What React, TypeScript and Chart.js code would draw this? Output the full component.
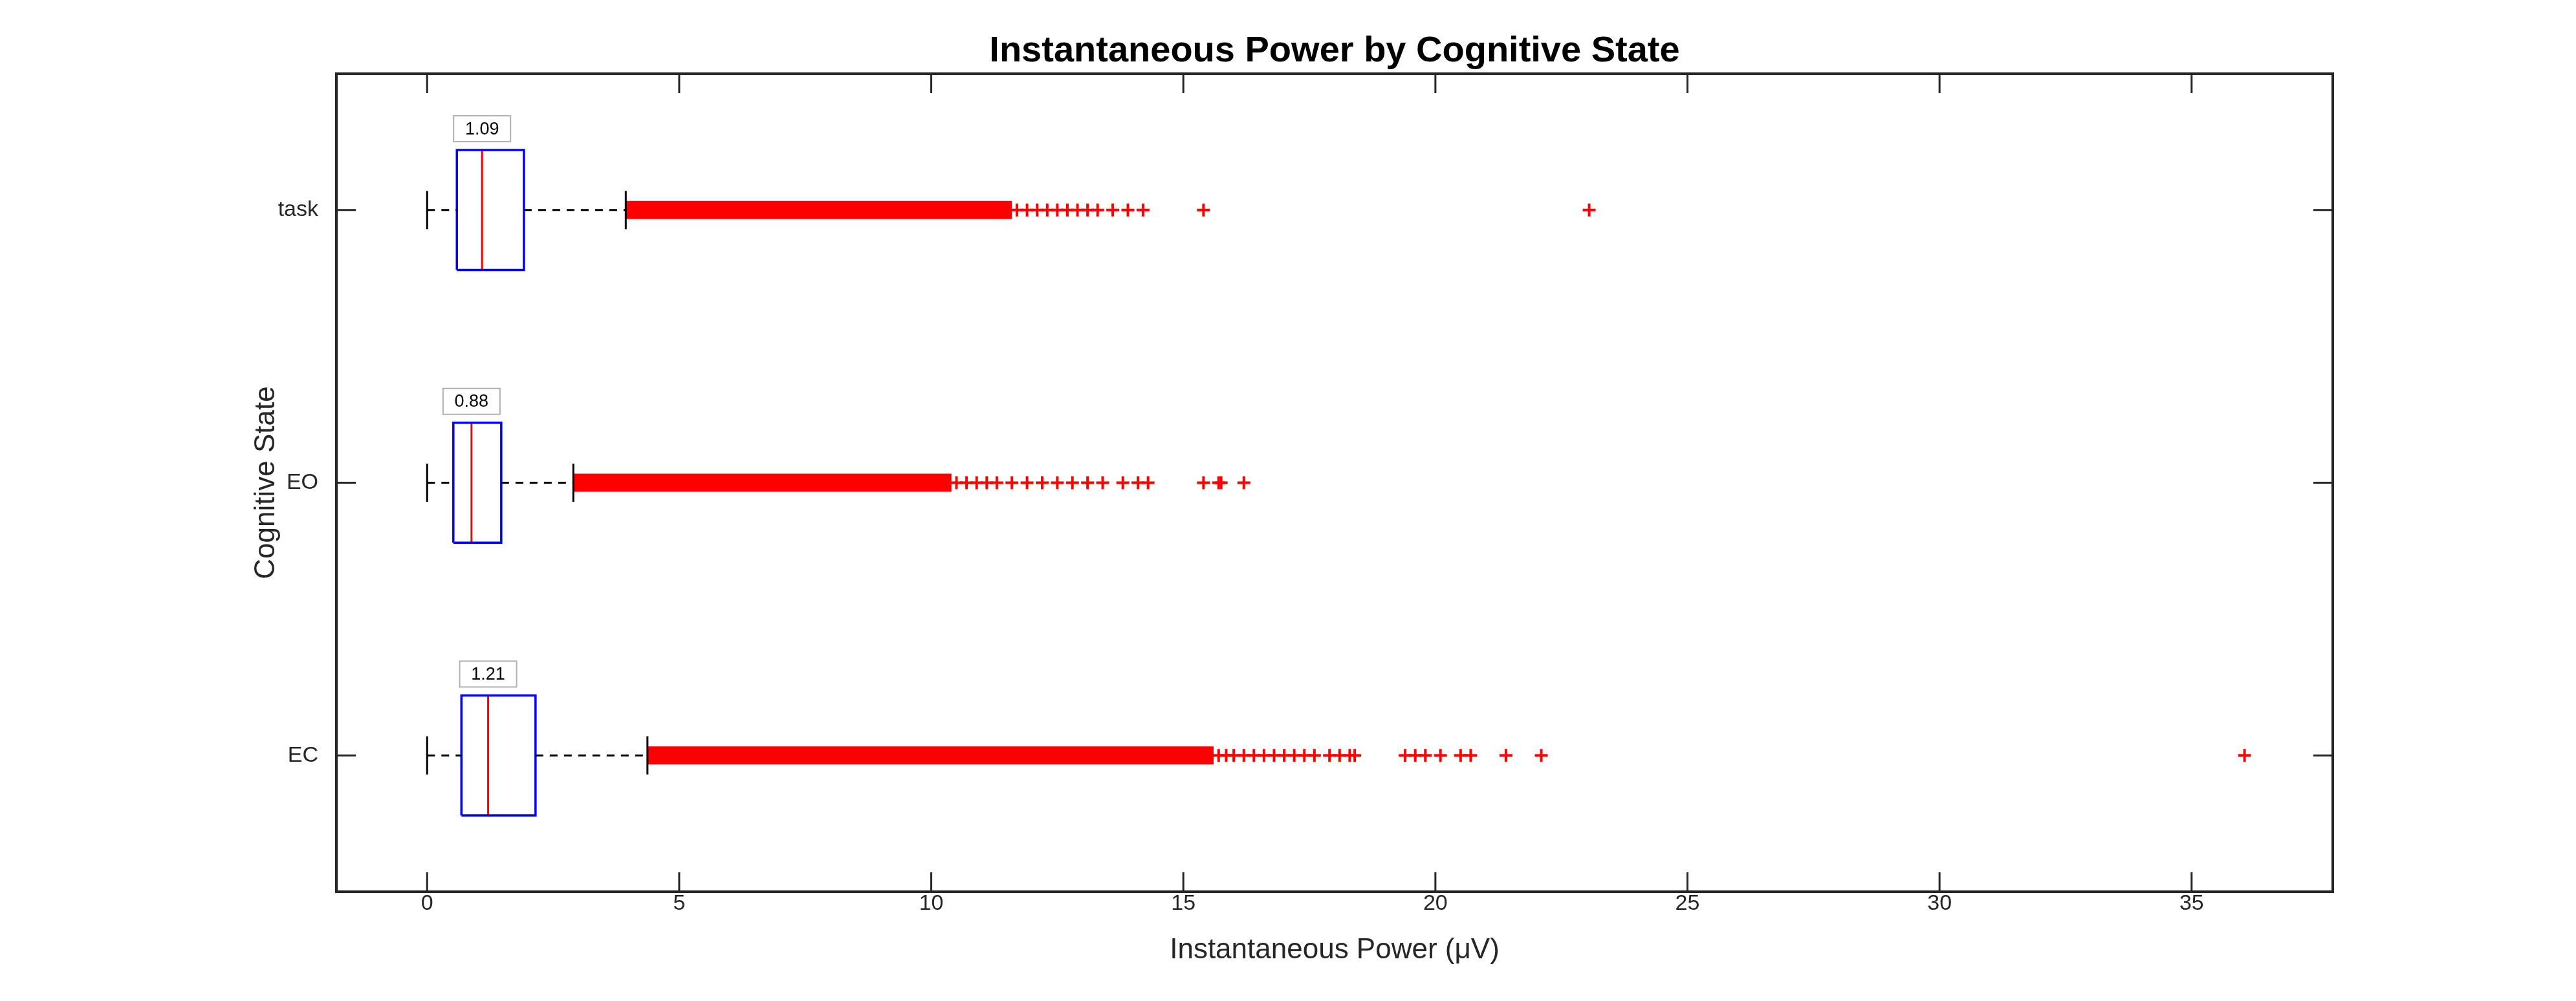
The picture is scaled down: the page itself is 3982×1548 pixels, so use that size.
import React, { useEffect, useRef } from "react";
import { Chart, registerables } from "chart.js";

Chart.register(...registerables);

const categories = ["EC", "EO", "task"];
const q1 = [0.68, 0.52, 0.59];
const medians = [1.21, 0.88, 1.09];
const q3 = [2.15, 1.47, 1.92];
const whiskerLow = [0, 0, 0];
const whiskerHigh = [4.37, 2.9, 3.94];
// the dense band of outliers, drawn as a solid run
const denseStart = [4.37, 2.9, 3.94];
const denseEnd = [15.6, 10.4, 11.6];
const sparseEC = [15.7, 15.85, 16.0, 16.2, 16.4, 16.6, 16.8, 17.0, 17.2, 17.4, 17.6, 17.9, 18.1, 18.3, 18.4, 19.4, 19.6, 19.8, 20.1, 20.5, 20.7, 21.4, 22.1, 36.05];
const sparseEO = [10.5, 10.7, 10.9, 11.1, 11.3, 11.6, 11.9, 12.2, 12.5, 12.8, 13.1, 13.4, 13.8, 14.1, 14.3, 15.4, 15.7, 15.75, 16.2];
const sparseTask = [11.7, 11.9, 12.1, 12.3, 12.5, 12.7, 12.9, 13.1, 13.3, 13.6, 13.9, 14.2, 15.4, 23.05];
const xTicks = [0, 5, 10, 15, 20, 25, 30, 35];

const FONT = "'Liberation Sans', Arial, sans-serif";
const HALF = 0.22;
const CAP = 0.07;

const App: React.FC = () => {
	const canvasRef = useRef<HTMLCanvasElement>(null);

	useEffect(() => {
		document.body.style.margin = "0";
		if (!canvasRef.current) return;

		const datasets: any[] = [];
		categories.forEach((_, i) => {
			// whiskers (dashed)
			datasets.push({ type: "line", data: [{ x: whiskerLow[i], y: i }, { x: q1[i], y: i }], borderColor: "#000", borderWidth: 3, borderDash: [12, 10], pointRadius: 0 });
			datasets.push({ type: "line", data: [{ x: q3[i], y: i }, { x: whiskerHigh[i], y: i }], borderColor: "#000", borderWidth: 3, borderDash: [12, 10], pointRadius: 0 });
			// caps
			datasets.push({ type: "line", data: [{ x: whiskerLow[i], y: i - CAP }, { x: whiskerLow[i], y: i + CAP }], borderColor: "#000", borderWidth: 3, pointRadius: 0 });
			datasets.push({ type: "line", data: [{ x: whiskerHigh[i], y: i - CAP }, { x: whiskerHigh[i], y: i + CAP }], borderColor: "#000", borderWidth: 3, pointRadius: 0 });
			// box
			datasets.push({
				type: "line",
				data: [
					{ x: q1[i], y: i - HALF }, { x: q3[i], y: i - HALF }, { x: q3[i], y: i + HALF },
					{ x: q1[i], y: i + HALF }, { x: q1[i], y: i - HALF },
				],
				borderColor: "#0000ff", borderWidth: 3.5, pointRadius: 0, tension: 0,
			});
			// median
			datasets.push({ type: "line", data: [{ x: medians[i], y: i - HALF }, { x: medians[i], y: i + HALF }], borderColor: "#ff0000", borderWidth: 3, pointRadius: 0 });
			// dense outliers
			datasets.push({ type: "line", data: [{ x: denseStart[i], y: i }, { x: denseEnd[i], y: i }], borderColor: "#ff0000", borderWidth: 28, borderCapStyle: "butt", pointRadius: 0 });
		});
		[sparseEC, sparseEO, sparseTask].forEach((arr, i) => {
			datasets.push({
				type: "scatter",
				data: arr.map((x) => ({ x, y: i })),
				pointStyle: "cross", pointRadius: 10, borderColor: "#ff0000", borderWidth: 4,
			});
		});

		const overlay = {
			id: "overlay",
			afterDraw(chart: any) {
				const { ctx, chartArea: a, scales } = chart;
				const xs = scales.x, ys = scales.y;
				ctx.save();
				// frame
				ctx.strokeStyle = "#262626";
				ctx.lineWidth = 4;
				ctx.strokeRect(a.left, a.top, a.right - a.left, a.bottom - a.top);
				// inward ticks
				ctx.lineWidth = 3;
				ctx.beginPath();
				xTicks.forEach((t) => {
					const p = xs.getPixelForValue(t);
					ctx.moveTo(p, a.bottom); ctx.lineTo(p, a.bottom - 30);
					ctx.moveTo(p, a.top); ctx.lineTo(p, a.top + 30);
				});
				categories.forEach((_, i) => {
					const p = ys.getPixelForValue(i);
					ctx.moveTo(a.left, p); ctx.lineTo(a.left + 30, p);
					ctx.moveTo(a.right, p); ctx.lineTo(a.right - 30, p);
				});
				ctx.stroke();
				// median labels
				ctx.font = `27px ${FONT}`;
				ctx.textAlign = "center";
				ctx.textBaseline = "middle";
				medians.forEach((m, i) => {
					const px = xs.getPixelForValue(m);
					const py = ys.getPixelForValue(i + HALF) - 33;
					const w = 88, h = 40;
					ctx.fillStyle = "#fff";
					ctx.fillRect(px - w / 2, py - h / 2, w, h);
					ctx.strokeStyle = "#b0b0b0";
					ctx.lineWidth = 2;
					ctx.strokeRect(px - w / 2, py - h / 2, w, h);
					ctx.fillStyle = "#000";
					ctx.fillText(m.toFixed(2), px, py + 1);
				});
				// title
				ctx.font = `bold 56px ${FONT}`;
				ctx.textBaseline = "bottom";
				ctx.fillText("Instantaneous Power by Cognitive State", (a.left + a.right) / 2, a.top - 6);
				ctx.restore();
			},
		};

		const chart = new Chart(canvasRef.current, {
			type: "scatter",
			data: { datasets },
			options: {
				animation: false,
				responsive: false,
				layout: { padding: { top: 114, right: 376, left: 385, bottom: 48 } },
				plugins: { legend: { display: false }, tooltip: { enabled: false }, title: { display: false } },
				scales: {
					x: {
						type: "linear", min: -1.8, max: 37.8,
						afterBuildTicks: (s: any) => { s.ticks = xTicks.map((v) => ({ value: v })); },
						afterFit: (s: any) => { s.height = 121; },
						grid: { display: false },
						border: { display: false },
						ticks: { color: "#262626", font: { family: FONT, size: 34 }, padding: -10 },
						title: { display: true, text: "Instantaneous Power (μV)", color: "#262626", font: { family: FONT, size: 44 }, padding: { top: 4 } },
					},
					y: {
						type: "linear", min: -0.5, max: 2.5,
						afterBuildTicks: (s: any) => { s.ticks = categories.map((_, i) => ({ value: i })); },
						afterFit: (s: any) => { s.width = 135; },
						grid: { display: false },
						border: { display: false },
						ticks: { color: "#262626", font: { family: FONT, size: 34 }, padding: 20, callback: (v: any) => categories[v] ?? "" },
						title: { display: true, text: "Cognitive State", color: "#262626", font: { family: FONT, size: 44 }, padding: 0 },
					},
				},
			},
			plugins: [overlay],
		});
		return () => chart.destroy();
	}, []);

	return <canvas ref={canvasRef} width={3982} height={1548} style={{ display: "block", width: 3982, height: 1548 }} />;
};

export default App;
